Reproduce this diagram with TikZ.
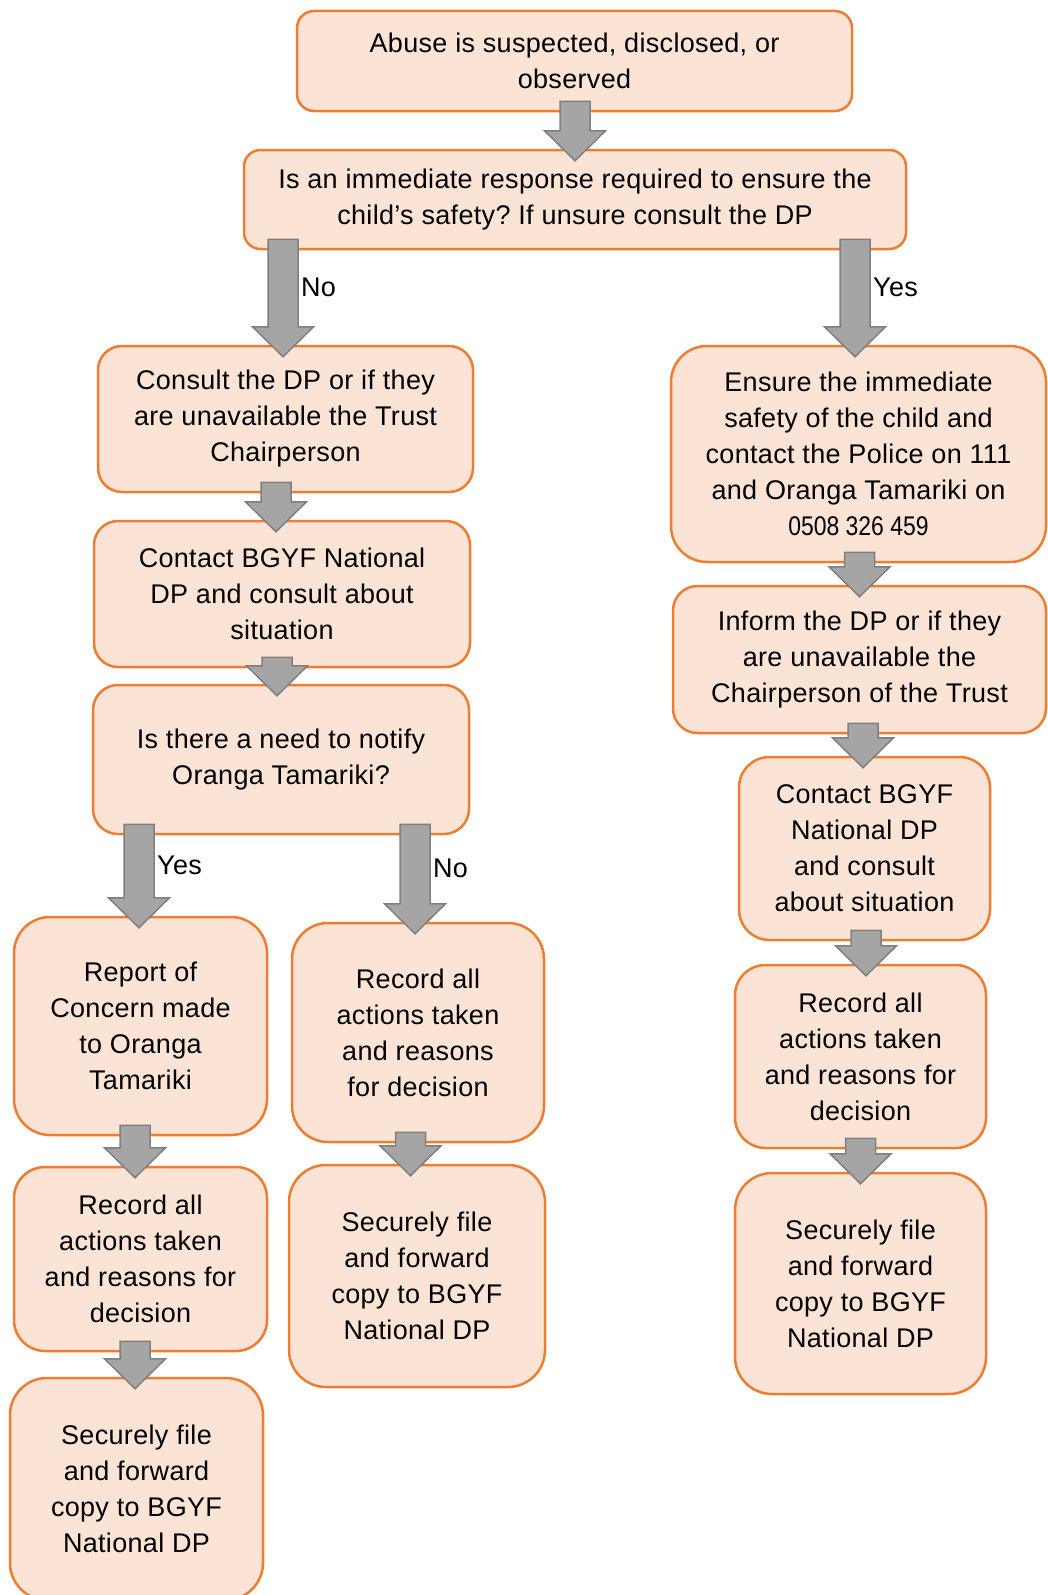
\documentclass[tikz,border=0pt]{standalone}
\usepackage{fontspec}
\setmainfont[LetterSpace=1.2]{Liberation Sans}
\newfontfamily\narrowfont[FakeStretch=0.85]{Liberation Sans}
\usetikzlibrary{calc}
\usepackage{xcolor}
\frenchspacing

\definecolor{boxfill}{HTML}{FBE4D5}
\definecolor{boxline}{HTML}{ED7D31}
\definecolor{arrowfill}{HTML}{A5A5A5}
\definecolor{arrowline}{HTML}{7F7F7F}

% block arrow from the bottom of #2 into the top of #3, #1 shifts it sideways
\newcommand{\flow}[3][0]{%
  \filldraw[flowarrow] let \p1=(#3.north), \p2=(#2.south) in
    ({\x1+(#1pt)-15pt},{\y2+11pt}) -- ({\x1+(#1pt)-15pt},{\y1+18pt})
    -- ({\x1+(#1pt)-30.5pt},{\y1+18pt}) -- ({\x1+(#1pt)},{\y1-12pt})
    -- ({\x1+(#1pt)+30.5pt},{\y1+18pt}) -- ({\x1+(#1pt)+15pt},{\y1+18pt})
    -- ({\x1+(#1pt)+15pt},{\y2+11pt}) -- cycle
    ({\x1+(#1pt)+15pt},{0.5*\y1+0.5*\y2+10pt}) coordinate (#2-#3);}

\begin{document}
\begin{tikzpicture}[
    x=1pt, y=-1pt,
    box/.style={draw=boxline, fill=boxfill, line width=2.5pt, rounded corners=#1,
        align=center, inner sep=0pt, font=\fontsize{27pt}{36pt}\selectfont},
    box/.default=24pt,
    flowarrow/.style={fill=arrowfill, draw=arrowline, line width=1.5pt},
    lbl/.style={anchor=west, inner sep=3pt, font=\fontsize{27pt}{36pt}\selectfont}
]
\useasboundingbox (0,0) rectangle (1048,1595);

\node[box=17pt, minimum width=555pt, minimum height=100pt] (abuse) at (574.5,61)
    {Abuse is suspected, disclosed, or\\observed};
\node[box=16.5pt, minimum width=662pt, minimum height=99pt] (immediate) at (575,199.5)
    {Is an immediate response required to ensure the\\child’s safety? If unsure consult the DP};

% left side
\node[box, minimum width=375pt, minimum height=146pt] (consult) at (285.5,419)
    {Consult the DP or if they\\are unavailable the Trust\\Chairperson};
\node[box, minimum width=376pt, minimum height=146pt] (contact) at (282,594)
    {Contact BGYF National\\DP and consult about\\situation};
\node[box=25pt, minimum width=376pt, minimum height=149pt] (notify) at (281,759.5)
    {Is there a need to notify\\Oranga Tamariki?};
\node[box=36pt, minimum width=253pt, minimum height=218pt] (report) at (140.5,1026)
    {Report of\\Concern made\\to Oranga\\Tamariki};
\node[box=36pt, minimum width=252pt, minimum height=219pt] (recordno) at (418,1032.5)
    {Record all\\actions taken\\and reasons\\for decision};
\node[box=31pt, minimum width=253pt, minimum height=184pt] (recordyes) at (140.5,1259)
    {Record all\\actions taken\\and reasons for\\decision};
\node[box=37pt, minimum width=256pt, minimum height=222pt] (fileno) at (417,1276)
    {Securely file\\and forward\\copy to BGYF\\National DP};
\node[box=37pt, minimum width=253pt, minimum height=222pt] (fileyes) at (136.5,1489)
    {Securely file\\and forward\\copy to BGYF\\National DP};

% right side
\node[box=36pt, minimum width=375pt, minimum height=216pt] (ensure) at (858.5,454)
    {Ensure the immediate\\safety of the child and\\contact the Police on 111\\and Oranga Tamariki on\\{\narrowfont 0508 326 459}};
\node[box=24.5pt, minimum width=373pt, minimum height=147pt] (inform) at (859.5,659.5)
    {Inform the DP or if they\\are unavailable the\\Chairperson of the Trust};
\node[box=30.5pt, minimum width=251pt, minimum height=183pt] (contactR) at (864.5,848.5)
    {Contact BGYF\\National DP\\and consult\\about situation};
\node[box=30.5pt, minimum width=251pt, minimum height=183pt] (recordR) at (860.5,1056.5)
    {Record all\\actions taken\\and reasons for\\decision};
\node[box=37pt, minimum width=251pt, minimum height=221pt] (fileR) at (860.5,1283.5)
    {Securely file\\and forward\\copy to BGYF\\National DP};

\flow{abuse}{immediate}
\flow[-2.5]{immediate}{consult}
\flow[-3.5]{immediate}{ensure}
\flow[-6]{consult}{contact}
\flow[-4]{contact}{notify}
\flow[-1.5]{notify}{report}
\flow[-3]{notify}{recordno}
\flow[-5.5]{report}{recordyes}
\flow[-6.5]{recordno}{fileno}
\flow[-1.5]{recordyes}{fileyes}
\flow{ensure}{inform}
\flow[-1.5]{inform}{contactR}
\flow[5.5]{contactR}{recordR}
\flow{recordR}{fileR}

\node[lbl] at (immediate-consult) {No};
\node[lbl] at (immediate-ensure) {Yes};
\node[lbl] at (notify-report) {Yes};
\node[lbl] at (notify-recordno) {No};
\end{tikzpicture}
\end{document}
